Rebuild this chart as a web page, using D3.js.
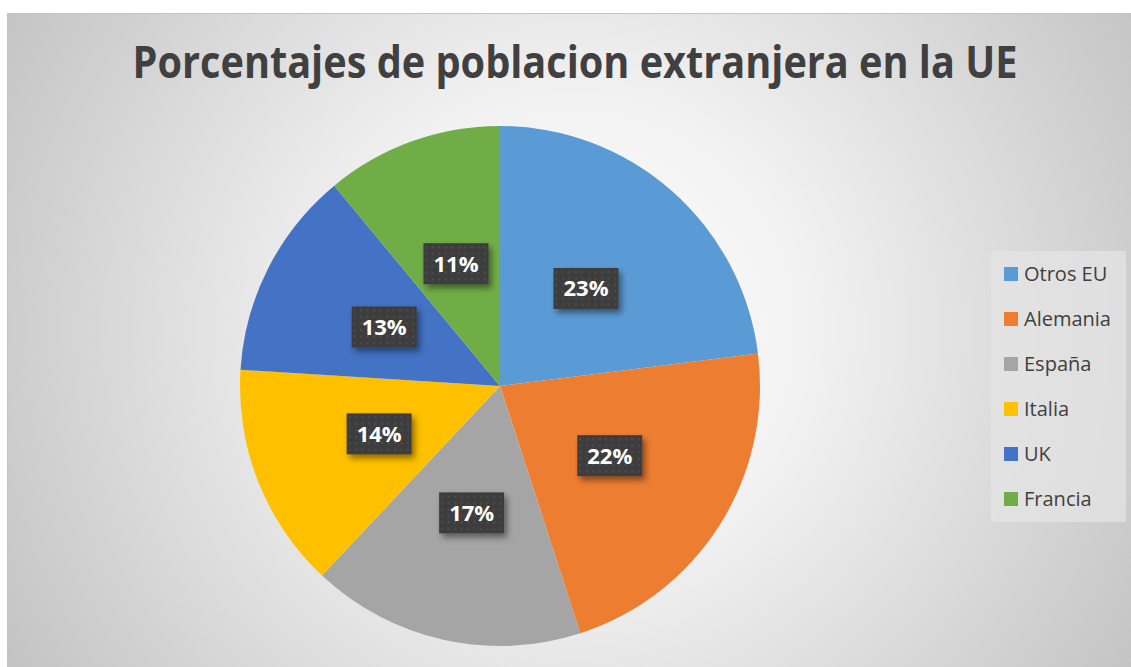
<!DOCTYPE html>
<html>
<head>
<meta charset="utf-8">
<script src="https://cdn.jsdelivr.net/npm/d3@7"></script>
<style>
  html, body { margin: 0; padding: 0; background: #fff; }
  svg { display: block; }
</style>
</head>
<body>
<svg id="chart"></svg>
<script>
// data
const categories = ["Otros EU", "Alemania", "España", "Italia", "UK", "Francia"];
const values = [23, 22, 17, 14, 13, 11];
const colors = ["#5B9BD5", "#ED7D31", "#A5A5A5", "#FFC000", "#4472C4", "#70AD47"];
const title = "Porcentajes de poblacion extranjera en la UE";

const width = 1131, height = 667;
const svg = d3.select("#chart").attr("width", width).attr("height", height);
const defs = svg.append("defs");

// background radial gradient (Excel style)
const grad = defs.append("radialGradient")
  .attr("id", "bg")
  .attr("gradientUnits", "userSpaceOnUse")
  .attr("cx", 575).attr("cy", 330).attr("r", 660);
grad.append("stop").attr("offset", "0").attr("stop-color", "#ffffff");
grad.append("stop").attr("offset", "0.35").attr("stop-color", "#f2f2f2");
grad.append("stop").attr("offset", "1").attr("stop-color", "#c3c3c3");

// dotted fill for label boxes
const pat = defs.append("pattern")
  .attr("id", "dots")
  .attr("patternUnits", "userSpaceOnUse")
  .attr("width", 6.5).attr("height", 6.5);
pat.append("rect").attr("width", 6.5).attr("height", 6.5).attr("fill", "#3d3d3d");
pat.append("rect").attr("x", 2).attr("y", 2).attr("width", 2).attr("height", 2).attr("fill", "#4d4d4d");

const shadow = defs.append("filter").attr("id", "shadow")
  .attr("x", "-30%").attr("y", "-30%").attr("width", "160%").attr("height", "160%");
shadow.append("feDropShadow")
  .attr("dx", 3).attr("dy", 4).attr("stdDeviation", 3)
  .attr("flood-color", "#000").attr("flood-opacity", 0.45);

// chart area
svg.append("rect")
  .attr("x", 7).attr("y", 13)
  .attr("width", width - 7).attr("height", height - 13)
  .attr("fill", "url(#bg)");
svg.append("path")
  .attr("d", `M7.5,${height} V13.5 H${width}`)
  .attr("fill", "none").attr("stroke", "#c4c4c4").attr("stroke-width", 1);

// title, squeezed horizontally to the reference width
const titleG = svg.append("g");
const titleText = titleG.append("text")
  .attr("text-anchor", "middle")
  .style("font-family", "'Open Sans', sans-serif")
  .style("font-weight", "bold")
  .style("font-size", "45px")
  .attr("fill", "#404040")
  .text(title);
const tw = titleText.node().getComputedTextLength();
titleG.attr("transform", `translate(575,78) scale(${Math.min(1, 885 / tw)},1)`);

// pie
const cx = 500, cy = 386, radius = 260;
const color = d3.scaleOrdinal().domain(categories).range(colors);
const pie = d3.pie().sort(null).value(d => d.value);
const data = categories.map((c, i) => ({ name: c, value: values[i] }));
const arcs = pie(data);
const arc = d3.arc().innerRadius(0).outerRadius(radius);
const labelArc = d3.arc().innerRadius(radius * 0.5).outerRadius(radius * 0.5);

const g = svg.append("g").attr("transform", `translate(${cx},${cy})`);
g.selectAll("path.slice")
  .data(arcs)
  .join("path")
  .attr("class", "slice")
  .attr("d", arc)
  .attr("fill", d => color(d.data.name));

const total = d3.sum(values);
const labels = g.selectAll("g.label")
  .data(arcs)
  .join("g")
  .attr("class", "label")
  .attr("transform", d => `translate(${labelArc.centroid(d)})`);
labels.append("rect")
  .attr("x", -32.5).attr("y", -20.5)
  .attr("width", 65).attr("height", 41)
  .attr("fill", "url(#dots)")
  .attr("filter", "url(#shadow)");
labels.append("text")
  .attr("text-anchor", "middle")
  .attr("dy", "0.36em")
  .style("font-family", "'Open Sans', sans-serif")
  .style("font-weight", "bold")
  .style("font-size", "22px")
  .attr("fill", "#ffffff")
  .text(d => d3.format(".0%")(d.data.value / total));

// legend
const legend = svg.append("g");
legend.append("rect")
  .attr("x", 991).attr("y", 251)
  .attr("width", 135).attr("height", 271)
  .attr("fill", "#e4e4e4").attr("fill-opacity", 0.75);
const ly = d3.scalePoint().domain(categories).range([274, 499]);
const items = legend.selectAll("g.item")
  .data(categories)
  .join("g")
  .attr("class", "item")
  .attr("transform", d => `translate(1004,${ly(d)})`);
items.append("rect")
  .attr("x", 0).attr("y", -7)
  .attr("width", 14).attr("height", 14)
  .attr("fill", d => color(d));
items.append("text")
  .attr("x", 20).attr("dy", "0.36em")
  .style("font-family", "'Open Sans', sans-serif")
  .style("font-size", "20px")
  .attr("fill", "#404040")
  .text(d => d);
</script>
</body>
</html>
